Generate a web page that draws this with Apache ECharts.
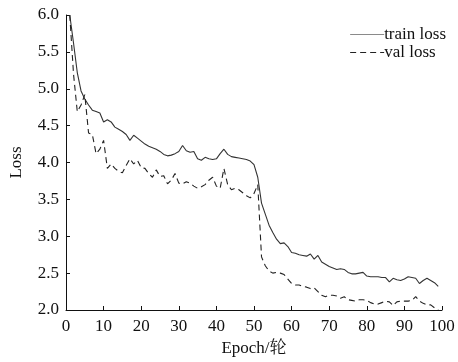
<!DOCTYPE html>
<html>
<head>
<meta charset="utf-8">
<script src="https://cdn.jsdelivr.net/npm/echarts@6/dist/echarts.min.js"></script>
<style>
html,body{margin:0;padding:0;background:#fff;}
#chart{width:458px;height:362px;}
</style>
</head>
<body>
<div id="chart"></div>
<script>
var epochs = [];
for (var e = 1; e <= 99; e++) epochs.push(e);

var trainLoss = [
6.00,5.62,5.22,4.97,4.86,4.78,4.71,4.69,4.67,4.55,
4.58,4.55,4.48,4.45,4.42,4.38,4.30,4.37,4.33,4.29,
4.25,4.22,4.20,4.18,4.15,4.11,4.09,4.10,4.12,4.15,
4.23,4.16,4.14,4.15,4.05,4.03,4.07,4.05,4.04,4.05,
4.12,4.18,4.11,4.08,4.07,4.06,4.05,4.04,4.02,3.97,
3.80,3.45,3.30,3.15,3.05,2.96,2.90,2.91,2.86,2.78,
2.77,2.75,2.74,2.73,2.76,2.69,2.74,2.65,2.62,2.59,
2.57,2.55,2.56,2.55,2.51,2.49,2.49,2.50,2.51,2.46,
2.45,2.45,2.45,2.44,2.44,2.38,2.43,2.41,2.40,2.42,
2.45,2.44,2.43,2.36,2.40,2.43,2.40,2.37,2.32
];

var valLoss = [
6.00,5.20,4.69,4.78,4.92,4.40,4.38,4.12,4.18,4.30,
3.92,3.98,3.92,3.88,3.86,3.96,4.05,3.98,4.03,3.93,
3.92,3.85,3.80,3.90,3.81,3.82,3.71,3.76,3.85,3.72,
3.71,3.74,3.72,3.68,3.65,3.67,3.70,3.76,3.80,3.68,
3.65,3.92,3.70,3.63,3.65,3.63,3.59,3.55,3.52,3.58,
3.70,2.72,2.60,2.53,2.50,2.51,2.50,2.48,2.42,2.36,
2.34,2.34,2.32,2.31,2.29,2.30,2.25,2.20,2.18,2.20,
2.20,2.19,2.16,2.18,2.14,2.13,2.12,2.14,2.14,2.13,
2.10,2.08,2.08,2.10,2.12,2.11,2.06,2.11,2.12,2.12,
2.12,2.13,2.18,2.12,2.09,2.07,2.07,2.03,2.00
];

var seriesNames = ['train loss', 'val loss'];
var xAxisTitle = 'Epoch/轮';
var yAxisTitle = 'Loss';

function pairs(vals) {
  return epochs.map(function (x, i) { return [x, vals[i]]; });
}

var font = '"Liberation Serif", "Times New Roman", "Noto Serif CJK SC", "Noto Sans CJK SC", serif';

var chart = echarts.init(document.getElementById('chart'), null, {renderer: 'canvas'});
chart.setOption({
  animation: false,
  backgroundColor: '#fff',
  grid: {left: 62, right: 16, top: 15, bottom: 47, containLabel: false},
  legend: {
    show: true,
    orient: 'vertical',
    right: 7,
    top: 21,
    itemWidth: 34,
    itemHeight: 12,
    itemGap: 1,
    itemStyle: {opacity: 0},
    textStyle: {fontFamily: font, fontSize: 17, color: '#111', padding: [0,0,0,-5]},
    data: [
      {name: seriesNames[0], lineStyle: {color: '#8a8a8a', width: 1.2, type: 'solid'}},
      {name: seriesNames[1], lineStyle: {color: '#222', width: 1.1, type: [6, 4]}}
    ]
  },
  xAxis: {
    type: 'value', min: 0, max: 100, interval: 10,
    name: xAxisTitle, nameLocation: 'middle', nameGap: 30,
    nameTextStyle: {fontFamily: font, fontSize: 17, color: '#111'},
    axisLine: {show: true, lineStyle: {color: '#111', width: 1}},
    axisTick: {show: true, inside: true, length: 4, lineStyle: {color: '#111'}},
    axisLabel: {fontFamily: font, fontSize: 17, color: '#111', margin: 8},
    splitLine: {show: false}
  },
  yAxis: {
    type: 'value', min: 2, max: 6, interval: 0.5,
    name: yAxisTitle, nameLocation: 'middle', nameGap: 41,
    nameTextStyle: {fontFamily: font, fontSize: 17, color: '#111'},
    axisLine: {show: true, lineStyle: {color: '#111', width: 1}},
    axisTick: {show: true, inside: true, length: 4, lineStyle: {color: '#111'}},
    axisLabel: {fontFamily: font, fontSize: 17, color: '#111', margin: 7,
      formatter: function (v) { return v.toFixed(1); }},
    splitLine: {show: false}
  },
  series: [
    {
      name: seriesNames[0], type: 'line', data: pairs(trainLoss),
      showSymbol: false, symbol: 'none', clip: true,
      lineStyle: {color: '#333', width: 1.1, type: 'solid'},
      itemStyle: {color: '#333'}
    },
    {
      name: seriesNames[1], type: 'line', data: pairs(valLoss),
      showSymbol: false, symbol: 'none', clip: true,
      lineStyle: {color: '#222', width: 1.1, type: [6, 4]},
      itemStyle: {color: '#222'}
    }
  ]
});
</script>
</body>
</html>
